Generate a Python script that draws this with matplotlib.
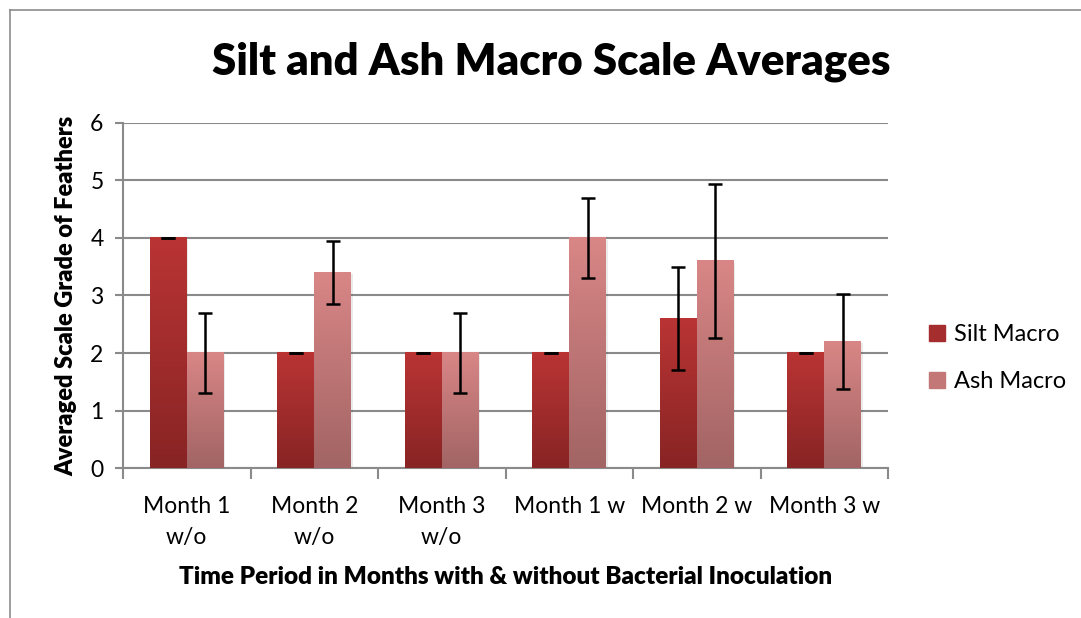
import numpy as np
import matplotlib
matplotlib.use("Agg")
import matplotlib.pyplot as plt
from matplotlib.colors import LinearSegmentedColormap
from matplotlib.lines import Line2D

categories = ["Month 1\nw/o", "Month 2\nw/o", "Month 3\nw/o", "Month 1 w", "Month 2 w", "Month 3 w"]
silt_values = [4.0, 2.0, 2.0, 2.0, 2.6, 2.0]
silt_errors = [0.0, 0.0, 0.0, 0.0, 0.9, 0.0]
ash_values = [2.0, 3.4, 2.0, 4.0, 3.6, 2.2]
ash_errors = [0.7, 0.55, 0.7, 0.7, 1.34, 0.83]
series_names = ["Silt Macro", "Ash Macro"]

plt.rcParams['font.family'] = ['Lato', 'DejaVu Sans']

fig = plt.figure(figsize=(10.81, 6.18), dpi=100)
ax = fig.add_axes([0.1138, 0.2427, 0.7077, 0.5583])

# chart frame (partially visible in the reference)
fig.add_artist(Line2D([10 / 1081, 1.0], [1 - 10 / 618] * 2, color="#8c8c8c", lw=1.2))
fig.add_artist(Line2D([10 / 1081] * 2, [0.0, 1 - 10 / 618], color="#8c8c8c", lw=1.2))

silt_cmap = LinearSegmentedColormap.from_list("silt", ["#882424", "#BA3434"])
ash_cmap = LinearSegmentedColormap.from_list("ash", ["#A26464", "#D98686"])

x = np.arange(len(categories))
w = 0.29
grad = np.linspace(0, 1, 256).reshape(-1, 1)

for vals, errs, off, cmap in [(silt_values, silt_errors, -w / 2, silt_cmap),
                              (ash_values, ash_errors, w / 2, ash_cmap)]:
    bars = ax.bar(x + off, vals, w, color="none", edgecolor="none", zorder=3)
    for b in bars:
        x0, y0 = b.get_x(), b.get_y()
        x1, y1 = x0 + b.get_width(), y0 + b.get_height()
        # soft shadow
        ax.fill_between([x0 + 0.012, x1 + 0.012], 0, y1 - 0.03, color="#000000", alpha=0.08, zorder=2.5, lw=0)
        ax.imshow(grad, cmap=cmap, extent=[x0, x1, y0, y1], origin="lower",
                  aspect="auto", zorder=3, vmin=0, vmax=1)
    ax.errorbar(x + off, vals, yerr=errs, fmt="none", ecolor="black",
                elinewidth=1.8, capsize=5, capthick=1.8, zorder=4)

ax.set_xlim(-0.5, len(categories) - 0.5)
ax.set_ylim(0, 6)
ax.set_yticks(range(0, 7))
ax.yaxis.grid(True, color="#8a8a8a", lw=1.5, zorder=0)
ax.set_axisbelow(True)

ax.set_xticks(np.arange(len(categories) + 1) - 0.5)
ax.set_xticklabels([])
ax.set_xticks(x, minor=True)
ax.set_xticklabels(categories, minor=True, fontsize=16.5, linespacing=1.6, va="top")
ax.tick_params(axis="x", which="minor", length=0, pad=20)
ax.tick_params(axis="x", which="major", length=8, width=1.5, color="#8a8a8a", direction="out")
ax.tick_params(axis="y", length=6, width=1.5, color="#8a8a8a", labelsize=16.5, pad=8)

for s in ["top", "right"]:
    ax.spines[s].set_visible(False)
for s in ["left", "bottom"]:
    ax.spines[s].set_color("#8a8a8a")
    ax.spines[s].set_linewidth(1.5)

ax.set_ylabel("Averaged Scale Grade of Feathers", fontsize=17, fontweight="heavy", labelpad=9)
ax.set_xlabel("Time Period in Months with & without Bacterial Inoculation", fontsize=17.5,
              fontweight="heavy", labelpad=13)

fig.text(551 / 1081, 1 - 62 / 618, "Silt and Ash Macro Scale Averages", ha="center", va="center",
         fontsize=31.5, fontweight="heavy")

handles = [plt.Rectangle((0, 0), 1, 1, color=c) for c in ["#A52D2D", "#C47777"]]
fig.legend(handles, series_names, loc="center left", bbox_to_anchor=(908 / 1081, 1 - 358 / 618),
           frameon=False, fontsize=17, handlelength=0.65, handleheight=0.65, handletextpad=0.4,
           labelspacing=1.1)

fig.savefig("out.png", dpi=100)
